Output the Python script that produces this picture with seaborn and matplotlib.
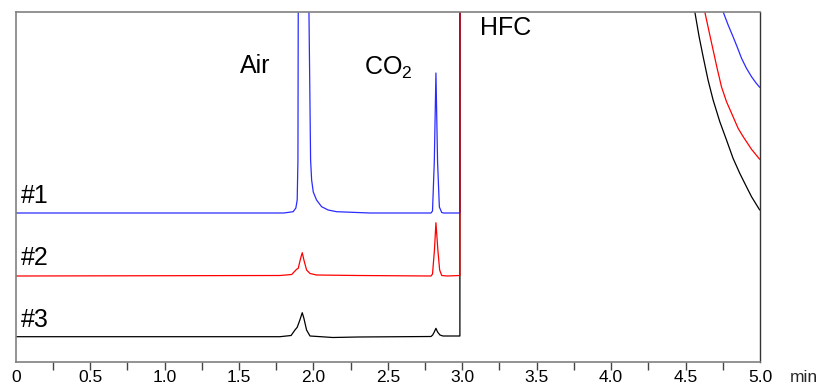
import numpy as np
import pandas as pd
import matplotlib
matplotlib.use("Agg")
import matplotlib.pyplot as plt
import matplotlib.transforms as mtransforms
import seaborn as sns

# ---- data (time in min, detector signal, arbitrary units) ----
# trace #1 (blue)
t1 = [0.00, 1.80, 1.864, 1.882, 1.891, 1.896, 1.898, 1.930, 1.970, 1.981, 1.988, 1.999,
      2.021, 2.055, 2.099, 2.156, 2.380, 2.790, 2.800, 2.812, 2.823, 2.834, 2.846, 2.862,
      2.875, 2.984, 2.986, 4.400,
      4.752, 4.786, 4.819, 4.846, 4.876, 4.909, 4.943, 4.972, 4.998]
s1 = [149, 149, 150.3, 154, 162, 202, 350, 2000, 350, 202, 182, 170,
      162, 155.3, 152, 150.3, 149, 149, 151, 200, 289, 200, 155, 149.5,
      149, 149, 2000, 2000,
      350.3, 337, 325.3, 315.3, 303.7, 293.7, 285.3, 279.3, 274.7]

# trace #2 (red)
t2 = [0.00, 1.775, 1.854, 1.887, 1.898, 1.914, 1.925, 1.936, 1.954, 1.977, 2.021, 2.300,
      2.790, 2.800, 2.813, 2.823, 2.836, 2.848, 2.862, 2.900, 2.984, 2.986, 4.400,
      4.629, 4.658, 4.685, 4.712, 4.741, 4.775, 4.819, 4.853, 4.887, 4.943, 4.998]
s2 = [86, 86.5, 87.5, 92.7, 93.7, 103.7, 109.3, 102, 92, 88.5, 87, 86.5,
      86, 88, 112, 139.3, 112, 92, 86.5, 86, 86.5, 2000, 2000,
      350.3, 330.3, 312, 293.7, 275.3, 260.3, 245.3, 233.7, 225.3, 212.7, 202.7]

# trace #3 (black)
t3 = [0.00, 1.775, 1.850, 1.876, 1.891, 1.909, 1.925, 1.936, 1.954, 1.977, 2.050, 2.130,
      2.300, 2.790, 2.801, 2.812, 2.823, 2.834, 2.850, 2.870, 2.984, 2.986, 4.400,
      4.562, 4.591, 4.618, 4.651, 4.685, 4.730, 4.775, 4.819, 4.864, 4.909, 4.943, 4.998]
s3 = [25.3, 25.3, 26.5, 32, 34.7, 42, 49.3, 43.7, 32, 26, 25.3, 24.5,
      25, 25.5, 27, 30, 33.7, 30, 27, 26, 26, 2000, 2000,
      350.3, 325.3, 305.3, 282, 262, 240.3, 222, 203.7, 188.7, 175.3, 165.3, 152]

trace_names = ["#1", "#2", "#3"]
trace_colors = {"#1": "#2b2bff", "#2": "#ff0000", "#3": "#000000"}

tick_positions = [0, 0.5, 1.0, 1.5, 2.0, 2.5, 3.0, 3.5, 4.0, 4.5, 5.0]
tick_labels = ["0", "0.5", "1.0", "1.5", "2.0", "2.5", "3.0", "3.5", "4.0", "4.5", "5.0"]
minor_positions = [0.25, 0.75, 1.25, 1.75, 2.25, 2.75, 3.25, 3.75, 4.25, 4.75]

peak_labels = ["Air", r"CO$_\mathregular{2}$", "HFC"]
peak_label_x = [1.506, 2.340, 3.116]
peak_label_y = [289.3, 287.0, 327.0]
trace_label_x = 0.034
trace_label_y = [159.3, 97.0, 35.3]

# ---- build table ----
df = pd.concat([
    pd.DataFrame({"time": t1, "signal": s1, "trace": "#1"}),
    pd.DataFrame({"time": t2, "signal": s2, "trace": "#2"}),
    pd.DataFrame({"time": t3, "signal": s3, "trace": "#3"}),
], ignore_index=True)

sns.set_style("white")
plt.rcParams["font.family"] = ["Liberation Sans", "DejaVu Sans"]
plt.rcParams["mathtext.fontset"] = "custom"
plt.rcParams["mathtext.rm"] = "Liberation Sans"

fig = plt.figure(figsize=(8.2, 3.9), dpi=100)
ax = fig.add_axes([15.7 / 820, 1 - 362 / 390, (760 - 15.7) / 820, (362 - 11.5) / 390])

sns.lineplot(data=df, x="time", y="signal", hue="trace",
             hue_order=["#1", "#3", "#2"], palette=trace_colors,
             estimator=None, sort=False, legend=False, linewidth=0.9, ax=ax)

ax.set_xlim(0, 5.0)
ax.set_ylim(0, 350.5)
ax.set_xlabel("")
ax.set_ylabel("")
ax.set_yticks([])

tick_len = 5.5
tick_pad = 0.3
tick_fs = 12.5
ax.set_xticks(tick_positions)
ax.set_xticklabels(tick_labels)
ax.set_xticks(minor_positions, minor=True)
ax.tick_params(axis="x", which="both", direction="out", length=tick_len, width=1.0,
               color="#444444", bottom=True, labelsize=tick_fs, pad=tick_pad,
               labelcolor="black")
ax.tick_params(axis="x", which="minor", labelbottom=False)
maj = ax.xaxis.get_major_ticks()
maj[0].tick1line.set_visible(False)
maj[-1].tick1line.set_visible(False)

for side in ["left", "top", "bottom"]:
    ax.spines[side].set_color("#808080")
    ax.spines[side].set_linewidth(1.2)
    ax.spines[side].set_visible(True)
ax.spines["right"].set_color("#333333")
ax.spines["right"].set_linewidth(1.0)
ax.spines["right"].set_visible(True)

for lab, x, y in zip(peak_labels, peak_label_x, peak_label_y):
    ax.text(x, y, lab, fontsize=18, ha="left", va="baseline", color="black")
for lab, y in zip(trace_names, trace_label_y):
    ax.text(trace_label_x, y, lab, fontsize=18, ha="left", va="baseline", color="black")

blend = mtransforms.blended_transform_factory(ax.transData, ax.transAxes)
off_px = (tick_len + tick_pad) / 72 * 100
ax.text(5.197, -off_px / 350.5, "min", transform=blend,
        fontsize=tick_fs, ha="left", va="top", clip_on=False)

fig.savefig("out.png", dpi=100)
